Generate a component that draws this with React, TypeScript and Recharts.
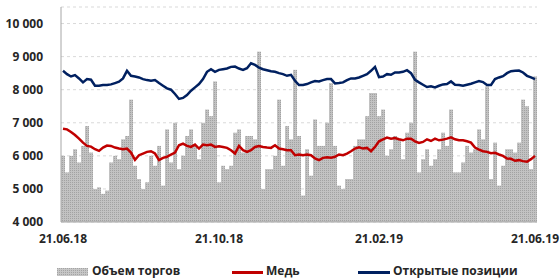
import {
  ComposedChart,
  Bar,
  Line,
  XAxis,
  YAxis,
  CartesianGrid,
} from 'recharts';

// one point every ~2 trading days, 21.06.18 .. 21.06.19
const volume = [
  6000, 5500, 6000, 6200, 5800, 6300, 6900, 6100, 5000, 5050, 4850, 4950, 5800, 6000, 5900, 6500, 6600, 7700, 5700, 5300,
  5000, 5200, 6000, 5700, 6300, 5100, 6800, 5800, 7000, 5600, 6000, 6600, 6800, 6300, 5900, 7000, 7400, 7200, 8250, 5200,
  5700, 5600, 5700, 6700, 6800, 6100, 6600, 6600, 6500, 9150, 5000, 5600, 5600, 6000, 7700, 5700, 6900, 6500, 8600, 6600,
  4800, 6200, 5400, 7100, 6300, 6300, 7000, 8200, 6300, 5100, 5000, 5300, 5300, 6300, 6500, 6500, 7200, 7900, 7900, 7200,
  7400, 6000, 6200, 6600, 6500, 5900, 6700, 7000, 9150, 5500, 5900, 6200, 5700, 5900, 6200, 6700, 6300, 7400, 5500, 5500,
  5800, 6300, 6100, 6200, 6800, 6500, 8100, 5300, 6400, 5100, 5700, 6200, 6200, 6100, 6400, 7700, 7500, 5600, 8400,
];

const copper = [
  6820, 6800, 6720, 6630, 6520, 6400, 6300, 6280, 6200, 6150, 6250, 6310, 6300, 6250, 6220, 6200, 6220, 6100, 5880, 6020,
  6070, 6120, 6140, 6070, 5870, 5940, 5970, 6040, 6100, 6320, 6370, 6300, 6270, 6340, 6220, 6340, 6320, 6340, 6270, 6290,
  6270, 6240, 6170, 6070, 6300, 6170, 6120, 6170, 6270, 6300, 6270, 6250, 6240, 6320, 6220, 6200, 6170, 6170, 6020, 6040,
  6020, 6040, 6020, 5920, 5870, 5940, 5960, 5940, 5970, 6040, 6020, 6070, 6140, 6220, 6260, 6220, 6240, 6140, 6270, 6440,
  6500, 6550, 6520, 6540, 6500, 6470, 6520, 6520, 6440, 6390, 6420, 6500, 6450, 6520, 6470, 6490, 6520, 6560, 6500, 6470,
  6470, 6440, 6400, 6250, 6190, 6140, 6120, 6080, 6090, 6040, 6000, 5920, 5910, 5850, 5870, 5840, 5820, 5900, 6000,
];

const openInterest = [
  8570, 8470, 8400, 8440, 8340, 8220, 8320, 8300, 8120, 8120, 8140, 8140, 8160, 8200, 8240, 8340, 8570, 8420, 8400, 8370,
  8320, 8290, 8270, 8290, 8200, 8120, 8040, 8000, 7870, 7720, 7750, 7840, 7970, 8070, 8170, 8320, 8540, 8620, 8540, 8600,
  8620, 8640, 8690, 8700, 8640, 8600, 8650, 8800, 8750, 8670, 8620, 8590, 8560, 8540, 8500, 8470, 8420, 8450, 8270, 8140,
  8140, 8170, 8220, 8260, 8250, 8290, 8320, 8320, 8190, 8200, 8220, 8290, 8340, 8340, 8370, 8420, 8470, 8570, 8690, 8380,
  8400, 8470, 8450, 8520, 8520, 8540, 8590, 8500, 8300, 8220, 8150, 8080, 8100, 8070, 8120, 8160, 8170, 8250, 8150, 8140,
  8120, 8150, 8180, 8220, 8260, 8230, 8140, 8140, 8320, 8370, 8410, 8500, 8560, 8570, 8580, 8520, 8420, 8370, 8320,
];

const dateTicks = [0, 39, 79, 118];
const dateLabels = ['21.06.18', '21.10.18', '21.02.19', '21.06.19'];
const yTicks = [4000, 5000, 6000, 7000, 8000, 9000, 10000];

const data = volume.map((v, i) => ({
  idx: i,
  volume: v,
  copper: copper[i],
  oi: openInterest[i],
}));

const FONT = '"Open Sans", sans-serif';
const tickStyle = { fill: '#262626', fontSize: 12, fontWeight: 700, fontFamily: FONT };

const fmtThousands = (v: number) => String(v).replace(/\B(?=(\d{3})+(?!\d))/g, ' ');

function LegendRow() {
  const text = {
    position: 'absolute' as const,
    top: 263,
    height: 16,
    lineHeight: '16px',
    fontSize: 12,
    fontWeight: 700,
    fontFamily: FONT,
    color: '#262626',
    whiteSpace: 'nowrap' as const,
  };
  return (
    <>
      <svg style={{ position: 'absolute', left: 57, top: 268 }} width={31} height={8}>
        <defs>
          <pattern id="volLegend" width={2} height={2} patternUnits="userSpaceOnUse">
            <rect width={2} height={2} fill="#c6c6c6" />
            <rect width={1} height={1} fill="#a4a4a4" />
          </pattern>
        </defs>
        <rect width={31} height={8} fill="url(#volLegend)" />
      </svg>
      <div style={{ ...text, left: 92 }}>Объем торгов</div>
      <div style={{ position: 'absolute', left: 232, top: 271, width: 31, height: 3, background: '#c00000' }} />
      <div style={{ ...text, left: 266 }}>Медь</div>
      <div style={{ position: 'absolute', left: 358, top: 271, width: 32, height: 3, background: '#002060' }} />
      <div style={{ ...text, left: 393 }}>Открытые позиции</div>
    </>
  );
}

export default function App() {
  return (
    <div style={{ position: 'absolute', left: 0, top: 0, width: 560, height: 279, background: '#fff', overflow: 'hidden' }}>
      <ComposedChart
        width={560}
        height={279}
        data={data}
        margin={{ top: 7, right: 23, bottom: 27, left: 0 }}
        barCategoryGap={0}
        barGap={0}
      >
        <defs>
          <pattern id="volFill" width={2} height={2} patternUnits="userSpaceOnUse">
            <rect width={2} height={2} fill="#c2c2c2" />
            <rect width={1} height={1} fill="#a2a2a2" />
          </pattern>
        </defs>
        <CartesianGrid vertical={false} strokeDasharray="3 3" stroke="#d9d9d9" />
        <XAxis
          dataKey="idx"
          height={30}
          ticks={dateTicks}
          interval={0}
          tickFormatter={(v: number) => dateLabels[dateTicks.indexOf(v)] ?? ''}
          tick={tickStyle}
          tickLine={false}
          tickSize={0}
          tickMargin={12}
          axisLine={{ stroke: '#a6a6a6' }}
        />
        <XAxis xAxisId="top" dataKey="idx" orientation="top" height={0} tick={false} tickLine={false} axisLine={{ stroke: '#a6a6a6' }} />
        <YAxis
          width={61}
          domain={[4000, 10500]}
          ticks={yTicks}
          interval={0}
          tickFormatter={fmtThousands}
          tick={tickStyle}
          tickLine={false}
          tickSize={0}
          tickMargin={18}
          axisLine={{ stroke: '#a6a6a6' }}
        />
        <YAxis yAxisId="right" orientation="right" width={0} domain={[4000, 10500]} tick={false} tickLine={false} axisLine={{ stroke: '#a6a6a6' }} />
        <Bar dataKey="volume" fill="url(#volFill)" isAnimationActive={false} />
        <Line dataKey="copper" type="linear" stroke="#c00000" strokeWidth={2.5} dot={false} isAnimationActive={false} />
        <Line dataKey="oi" type="linear" stroke="#002060" strokeWidth={2.5} dot={false} isAnimationActive={false} />
      </ComposedChart>
      <LegendRow />
    </div>
  );
}
